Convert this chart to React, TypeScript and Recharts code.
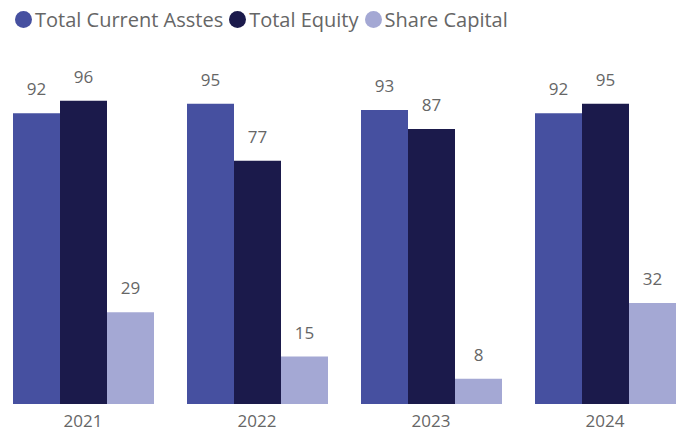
import { Bar, BarChart, LabelList, Legend, XAxis, YAxis } from "recharts";

const years = ["2021", "2022", "2023", "2024"];
const currentAssets = [92, 95, 93, 92];
const totalEquity = [96, 77, 87, 95];
const shareCapital = [29, 15, 8, 32];

const seriesNames = ["Total Current Asstes", "Total Equity", "Share Capital"];
const seriesColors = ["#4650A0", "#1B1A4B", "#A4A8D4"];

const data = years.map((year, i) => ({
  year,
  assets: currentAssets[i],
  equity: totalEquity[i],
  capital: shareCapital[i],
}));

const FONT = "'Open Sans', 'Segoe UI', sans-serif";
const labelStyle = { fill: "#666", fontSize: 17, fontFamily: FONT };

const LegendRow = () => (
  <div style={{ display: "flex", alignItems: "center", fontFamily: FONT, fontSize: 20, color: "#666" }}>
    {seriesNames.map((name, i) => (
      <span key={name} style={{ display: "flex", alignItems: "center", marginRight: 6 }}>
        <span
          style={{
            width: 17,
            height: 17,
            borderRadius: "50%",
            background: seriesColors[i],
            display: "inline-block",
            marginRight: 3,
          }}
        />
        {name}
      </span>
    ))}
  </div>
);

export default function App() {
  return (
    <div style={{ position: "absolute", left: 0, top: 0, background: "#fff" }}>
      <BarChart
        width={684}
        height={432}
        data={data}
        barCategoryGap={17}
        barGap={0}
        margin={{ top: 61, right: -8, left: -4, bottom: 0 }}
      >
        <Legend
          verticalAlign="top"
          align="left"
          content={<LegendRow />}
          wrapperStyle={{ top: 6, left: 15 }}
        />
        <XAxis
          dataKey="year"
          axisLine={false}
          tickLine={false}
          height={28}
          tick={{ fill: "#666", fontSize: 17, fontFamily: FONT, dy: 3 }}
        />
        <YAxis hide domain={[0, 100]} />
        <Bar dataKey="assets" name={seriesNames[0]} fill={seriesColors[0]} isAnimationActive={false}>
          <LabelList dataKey="assets" position="top" offset={18} style={labelStyle} />
        </Bar>
        <Bar dataKey="equity" name={seriesNames[1]} fill={seriesColors[1]} isAnimationActive={false}>
          <LabelList dataKey="equity" position="top" offset={18} style={labelStyle} />
        </Bar>
        <Bar dataKey="capital" name={seriesNames[2]} fill={seriesColors[2]} isAnimationActive={false}>
          <LabelList dataKey="capital" position="top" offset={18} style={labelStyle} />
        </Bar>
      </BarChart>
    </div>
  );
}
